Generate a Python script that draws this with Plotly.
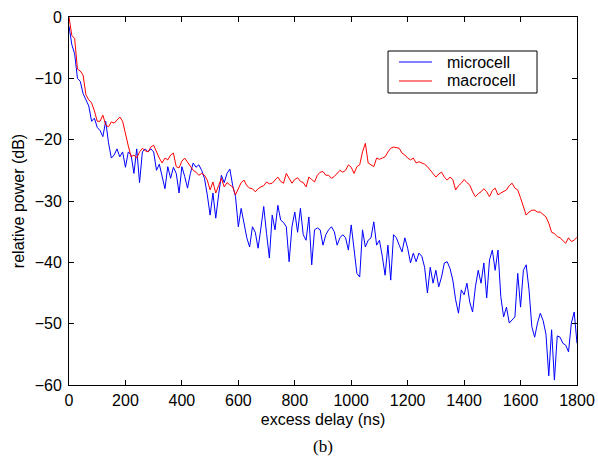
import plotly.graph_objects as go

# excess delay (ns), sampled every 10 ns
delay_ns = list(range(0, 1801, 10))

microcell_db = [
    -1.5, -4.5, -6.0, -10.0, -10.5, -12.5, -13.5, -14.5, -17.0, -16.5,
    -18.0, -18.5, -19.5, -17.0, -20.5, -23.0, -22.5, -21.5, -22.8, -22.0,
    -24.5, -22.0, -22.5, -25.5, -21.5, -27.0, -22.0, -21.5, -22.0, -21.5,
    -22.0, -25.0, -24.0, -26.0, -28.0, -24.4, -26.3, -24.5, -25.5, -28.7,
    -24.4, -26.0, -27.9, -25.5, -23.8, -24.5, -24.1, -25.0, -26.3, -29.0,
    -32.3, -28.7, -32.8, -29.0, -25.8, -27.0, -25.5, -24.8, -27.5, -29.3,
    -34.2, -31.2, -33.6, -36.0, -37.5, -34.2, -35.1, -37.7, -34.4, -30.9,
    -35.3, -39.3, -32.3, -34.7, -30.7, -33.1, -33.5, -34.2, -39.9, -34.2,
    -31.8, -35.1, -31.2, -35.5, -36.4, -32.6, -40.4, -34.7, -34.4, -34.7,
    -37.2, -35.5, -34.7, -34.2, -35.0, -37.2, -36.0, -35.5, -36.0, -38.0,
    -33.9, -37.7, -41.8, -42.4, -34.7, -37.5, -36.4, -36.0, -33.4, -37.2,
    -36.4, -39.0, -42.1, -37.2, -42.9, -35.5, -36.0, -37.2, -38.3, -36.0,
    -37.7, -40.1, -38.5, -39.9, -38.5, -39.0, -40.8, -45.0, -40.8, -43.4,
    -41.3, -44.0, -42.4, -40.1, -39.9, -41.0, -42.9, -46.1, -48.3, -44.5,
    -45.3, -43.4, -46.5, -48.1, -44.0, -41.3, -43.4, -40.1, -45.8, -39.6,
    -38.0, -41.3, -38.0, -45.6, -48.9, -47.3, -49.9, -49.4, -48.9, -41.8,
    -47.3, -41.3, -40.4, -44.5, -50.5, -52.2, -49.9, -48.3, -49.5, -51.7,
    -58.5, -51.0, -59.2, -52.0, -52.2, -53.2, -53.5, -54.6, -49.9, -48.1,
    -53.2,
]

macrocell_db = [
    0.0, -3.0, -3.5, -8.5, -8.8, -9.5, -12.7, -13.5, -14.0, -15.3,
    -17.0, -17.0, -16.0, -17.6, -17.9, -17.1, -17.3, -16.8, -16.3, -17.0,
    -19.2, -21.0, -22.8, -22.5, -23.0, -22.0, -21.4, -21.8, -22.0, -21.2,
    -20.9, -22.0, -23.0, -23.8, -23.0, -23.3, -22.5, -22.2, -24.4, -24.6,
    -23.5, -23.0, -23.6, -24.4, -25.0, -25.3, -25.8, -25.5, -25.8, -26.6,
    -28.2, -26.9, -28.7, -27.5, -26.3, -27.7, -27.0, -27.4, -27.7, -29.0,
    -28.0, -27.0, -26.6, -27.5, -27.9, -28.0, -28.5, -28.0, -27.7, -27.5,
    -26.9, -27.2, -27.1, -26.5, -26.1, -26.8, -27.1, -25.5, -26.2, -27.1,
    -26.5, -26.2, -26.8, -27.0, -27.7, -26.1, -26.5, -26.9, -25.8, -25.3,
    -25.2, -25.8, -25.8, -26.3, -26.0, -25.5, -25.0, -25.3, -25.0, -24.1,
    -24.5, -25.5, -24.4, -24.1, -22.0, -20.6, -23.8, -24.1, -24.4, -23.0,
    -23.2, -23.0, -22.8, -22.0, -21.4, -21.2, -21.3, -21.4, -22.2, -22.5,
    -23.0, -23.3, -23.0, -23.8, -23.6, -23.8, -24.0, -24.4, -25.0, -25.5,
    -26.1, -25.6, -25.3, -26.1, -26.6, -26.1, -26.5, -28.2, -27.5, -27.1,
    -26.5, -27.0, -27.4, -28.5, -29.3, -28.8, -28.5, -28.0, -28.5, -29.3,
    -28.3, -27.9, -29.0, -28.7, -28.5, -28.2, -27.5, -27.1, -27.9, -28.2,
    -29.5, -31.0, -32.3, -31.8, -31.5, -31.5, -31.8, -31.8, -32.2, -32.6,
    -33.6, -35.1, -35.3, -35.8, -36.0, -36.4, -36.9, -36.0, -36.6, -36.4,
    -35.9,
]

x_ticks = [0, 200, 400, 600, 800, 1000, 1200, 1400, 1600, 1800]
y_ticks = [0, -10, -20, -30, -40, -50, -60]
series_names = ["microcell", "macrocell"]
series_colors = ["#0000ff", "#ff0000"]

fig = go.Figure()
for name, vals, col in zip(series_names, [microcell_db, macrocell_db], series_colors):
    fig.add_trace(go.Scatter(x=delay_ns, y=vals, mode="lines", name=name,
                             line=dict(color=col, width=1), showlegend=False))

axis_common = dict(showgrid=False, zeroline=False, showline=True, linecolor="black",
                   linewidth=1, mirror="ticks", ticks="inside", ticklen=5,
                   tickcolor="black", automargin=False,
                   tickfont=dict(size=16, color="black"))

fig.update_xaxes(range=[0, 1800], tickvals=x_ticks, ticklabelstandoff=1,
                 title=dict(text="excess delay (ns)", standoff=5,
                            font=dict(size=16, color="black")),
                 **axis_common)
fig.update_yaxes(range=[-60, 0], tickvals=y_ticks, ticklabelstandoff=3,
                 title=dict(text="relative power (dB)", standoff=6,
                            font=dict(size=16, color="black")),
                 **axis_common)

# legend box drawn in paper coordinates (MATLAB-style compact legend)
shapes = [dict(type="rect", xref="paper", yref="paper",
               x0=0.628, x1=0.9213, y0=0.7935, y1=0.9076,
               line=dict(color="black", width=1), fillcolor="white", layer="above")]
annotations = []
legend_rows_y = [0.8777, 0.8261]
for name, col, yy in zip(series_names, series_colors, legend_rows_y):
    shapes.append(dict(type="line", xref="paper", yref="paper",
                       x0=0.6496, x1=0.7146, y0=yy, y1=yy,
                       line=dict(color=col, width=1), layer="above"))
    annotations.append(dict(text=name, x=0.7402, y=yy, xref="paper", yref="paper",
                            xanchor="left", yanchor="middle", showarrow=False,
                            font=dict(size=16, color="black")))

annotations.append(dict(text="(b)", x=0.5, y=-0.166, xref="paper", yref="paper",
                        xanchor="center", yanchor="middle", showarrow=False,
                        font=dict(family="Liberation Serif, Times New Roman, serif",
                                  size=17, color="black")))

fig.update_layout(
    width=598, height=457,
    margin=dict(l=69, r=21, t=17, b=72),
    plot_bgcolor="white", paper_bgcolor="white",
    font=dict(family="Liberation Sans, Arial, sans-serif", size=16, color="black"),
    showlegend=False,
    shapes=shapes,
    annotations=annotations,
)

fig.write_html("out.html")
